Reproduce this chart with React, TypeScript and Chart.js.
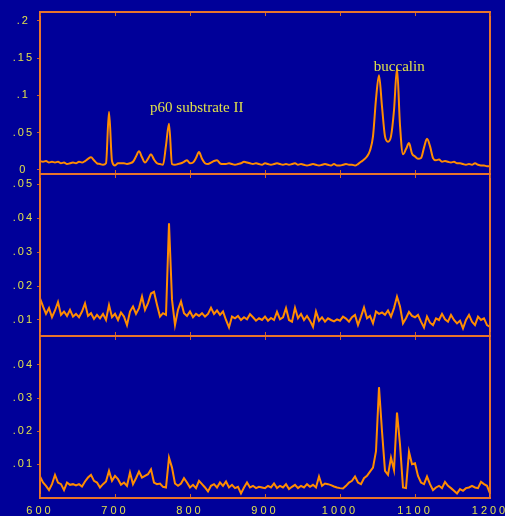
import React, { useEffect, useRef } from 'react';
import { Chart, registerables } from 'chart.js';

Chart.register(...registerables);

// Spectra are sampled every 4 cm-1 from 600 to 1200.
const WAVENUMBER_START = 600;
const WAVENUMBER_STEP = 4;

const TOP_TRACE = [
  0.012, 0.011, 0.012, 0.010, 0.011, 0.010, 0.011, 0.009, 0.010, 0.008,
  0.009, 0.010, 0.009, 0.011, 0.010, 0.012, 0.015, 0.017, 0.013, 0.009,
  0.008, 0.007, 0.009, 0.078, 0.012, 0.006, 0.009, 0.009, 0.009, 0.008,
  0.009, 0.011, 0.018, 0.025, 0.017, 0.010, 0.015, 0.021, 0.014, 0.009,
  0.008, 0.007, 0.033, 0.062, 0.008, 0.007, 0.008, 0.009, 0.011, 0.013,
  0.009, 0.010, 0.016, 0.024, 0.015, 0.009, 0.008, 0.010, 0.012, 0.013,
  0.009, 0.008, 0.008, 0.009, 0.008, 0.007, 0.008, 0.009, 0.011, 0.010,
  0.009, 0.008, 0.009, 0.008, 0.007, 0.009, 0.008, 0.007, 0.008, 0.009,
  0.008, 0.007, 0.008, 0.007, 0.008, 0.009, 0.007, 0.008, 0.007, 0.006,
  0.007, 0.008, 0.007, 0.006, 0.007, 0.008, 0.007, 0.006, 0.008, 0.006,
  0.006, 0.007, 0.008, 0.007, 0.007, 0.006, 0.008, 0.011, 0.014, 0.018,
  0.026, 0.045, 0.095, 0.127, 0.085, 0.045, 0.038, 0.045, 0.080, 0.136,
  0.060, 0.021, 0.028, 0.036, 0.022, 0.018, 0.015, 0.016, 0.030, 0.042,
  0.032, 0.016, 0.013, 0.014, 0.011, 0.012, 0.011, 0.010, 0.011, 0.009,
  0.009, 0.008, 0.007, 0.008, 0.007, 0.009, 0.007, 0.006, 0.006, 0.005,
  0.005,
];

const MIDDLE_TRACE = [
  0.0164, 0.0140, 0.0118, 0.0135, 0.0108, 0.0128, 0.0153, 0.0115, 0.0125, 0.0112,
  0.0130, 0.0110, 0.0118, 0.0108, 0.0125, 0.0149, 0.0112, 0.0120, 0.0103, 0.0115,
  0.0105, 0.0118, 0.0100, 0.0144, 0.0108, 0.0118, 0.0100, 0.0122, 0.0110, 0.0085,
  0.0125, 0.0140, 0.0118, 0.0135, 0.0169, 0.0130, 0.0150, 0.0178, 0.0183, 0.0145,
  0.0110, 0.0120, 0.0115, 0.0385, 0.0160, 0.0085, 0.0130, 0.0155, 0.0120, 0.0112,
  0.0125, 0.0108, 0.0118, 0.0112, 0.0120, 0.0110, 0.0118, 0.0136, 0.0118, 0.0128,
  0.0115, 0.0125, 0.0100, 0.0078, 0.0110, 0.0105, 0.0112, 0.0100, 0.0108, 0.0102,
  0.0117, 0.0108, 0.0098, 0.0105, 0.0100, 0.0110, 0.0098, 0.0106, 0.0100, 0.0124,
  0.0102, 0.0108, 0.0135, 0.0100, 0.0095, 0.0136, 0.0105, 0.0118, 0.0100, 0.0112,
  0.0098, 0.0080, 0.0125, 0.0098, 0.0108, 0.0095, 0.0105, 0.0100, 0.0096, 0.0102,
  0.0098, 0.0110, 0.0104, 0.0095, 0.0108, 0.0115, 0.0085, 0.0110, 0.0137, 0.0105,
  0.0112, 0.0090, 0.0125, 0.0118, 0.0122, 0.0115, 0.0128, 0.0110, 0.0135, 0.0169,
  0.0140, 0.0090, 0.0105, 0.0124, 0.0112, 0.0108, 0.0115, 0.0095, 0.0078, 0.0110,
  0.0092, 0.0085, 0.0105, 0.0100, 0.0118, 0.0102, 0.0095, 0.0115, 0.0100, 0.0090,
  0.0098, 0.0075, 0.0100, 0.0115, 0.0095, 0.0085, 0.0110, 0.0100, 0.0105, 0.0085,
  0.0080,
];

const BOTTOM_TRACE = [
  0.0063, 0.0045, 0.0035, 0.0022, 0.0040, 0.0068, 0.0045, 0.0040, 0.0022, 0.0045,
  0.0038, 0.0040, 0.0036, 0.0040, 0.0033, 0.0048, 0.0060, 0.0068, 0.0050, 0.0045,
  0.0030, 0.0040, 0.0048, 0.0080, 0.0050, 0.0065, 0.0055, 0.0038, 0.0045, 0.0035,
  0.0075, 0.0040, 0.0058, 0.0078, 0.0060, 0.0065, 0.0070, 0.0085, 0.0045, 0.0040,
  0.0042, 0.0032, 0.0030, 0.0120, 0.0090, 0.0042, 0.0035, 0.0042, 0.0058, 0.0045,
  0.0030, 0.0038, 0.0028, 0.0050, 0.0040, 0.0030, 0.0018, 0.0035, 0.0040, 0.0030,
  0.0045, 0.0035, 0.0048, 0.0030, 0.0038, 0.0028, 0.0032, 0.0012, 0.0030, 0.0045,
  0.0030, 0.0035, 0.0028, 0.0032, 0.0030, 0.0028, 0.0035, 0.0030, 0.0042, 0.0028,
  0.0035, 0.0030, 0.0040, 0.0025, 0.0032, 0.0038, 0.0028, 0.0035, 0.0030, 0.0040,
  0.0032, 0.0038, 0.0030, 0.0063, 0.0035, 0.0042, 0.0040, 0.0037, 0.0033, 0.0030,
  0.0028, 0.0027, 0.0035, 0.0045, 0.0050, 0.0063, 0.0045, 0.0040, 0.0058, 0.0065,
  0.0078, 0.0090, 0.0140, 0.0333, 0.0200, 0.0080, 0.0068, 0.0120, 0.0083, 0.0256,
  0.0160, 0.0030, 0.0028, 0.0138, 0.0100, 0.0103, 0.0065, 0.0045, 0.0040, 0.0063,
  0.0040, 0.0022, 0.0030, 0.0035, 0.0028, 0.0047, 0.0035, 0.0028, 0.0020, 0.0012,
  0.0025, 0.0020, 0.0028, 0.0030, 0.0035, 0.0030, 0.0028, 0.0047, 0.0040, 0.0035,
  0.0012,
];

const X_TICKS = [600, 700, 800, 900, 1000, 1100, 1200];
const TOP_TICKS = [0, 0.05, 0.1, 0.15, 0.2];
const MIDDLE_TICKS = [0.01, 0.02, 0.03, 0.04, 0.05];
const BOTTOM_TICKS = [0.01, 0.02, 0.03, 0.04];

const PEAK_NAMES = ['p60 substrate II', 'buccalin'];
const PEAK_NAME_X = [809, 1079];
const PEAK_NAME_Y = [0.078, 0.132];

const BG = '#000099';
const LINE = '#ff8c00';
const FRAME = '#e8742c';
const TICK = '#c8622a';
const TEXT = '#e0e04a';
const SANS = '"Liberation Sans", Arial, sans-serif';
const SERIF = '"Liberation Serif", "Times New Roman", serif';

const PANEL_IDS = ['yTop', 'yMid', 'yBot'];

function formatDecimal(v: number): string {
  if (v === 0) return '0';
  return String(+v.toFixed(4)).replace(/^0\./, '.');
}

function toPoints(vals: number[]) {
  return vals.map((y, i) => ({ x: WAVENUMBER_START + i * WAVENUMBER_STEP, y }));
}

function panelScale(min: number, max: number, ticks: number[], weight: number) {
  return {
    type: 'linear',
    position: 'left',
    stack: 'panels',
    stackWeight: 1,
    weight,
    min,
    max,
    afterBuildTicks: (s: any) => {
      s.ticks = ticks.map((value) => ({ value }));
    },
    afterFit: (s: any) => {
      s.width = 40;
      s.paddingTop = 0;
      s.paddingBottom = 0;
    },
    grid: {
      display: true,
      drawOnChartArea: false,
      drawTicks: true,
      tickLength: 3,
      color: TICK,
      lineWidth: 1,
    },
    border: { display: false },
    ticks: {
      color: TEXT,
      font: { family: SANS, size: 11 },
      padding: 6,
      crossAlign: 'center',
      autoSkip: false,
      callback: (v: number) => formatDecimal(v),
    },
  };
}

const panelFrame = {
  id: 'panelFrame',
  beforeDraw(chart: any) {
    const { ctx, width, height } = chart;
    ctx.save();
    ctx.fillStyle = BG;
    ctx.fillRect(0, 0, width, height);
    ctx.restore();
    ctx.letterSpacing = '2px';
  },
  afterDatasetsDraw(chart: any) {
    const { ctx, chartArea, scales } = chart;
    const xs = scales.x;
    ctx.save();
    ctx.letterSpacing = '0px';
    ctx.strokeStyle = FRAME;
    ctx.lineWidth = 2;
    for (const id of PANEL_IDS) {
      const s = scales[id];
      ctx.strokeRect(chartArea.left, s.top, chartArea.right - chartArea.left, s.bottom - s.top);
    }
    ctx.strokeStyle = TICK;
    ctx.lineWidth = 1;
    ctx.beginPath();
    for (const id of PANEL_IDS) {
      const s = scales[id];
      for (const v of X_TICKS) {
        const px = Math.round(xs.getPixelForValue(v)) + 0.5;
        ctx.moveTo(px, s.top + 1);
        ctx.lineTo(px, s.top + 4);
        ctx.moveTo(px, s.bottom - 1);
        ctx.lineTo(px, s.bottom - 4);
      }
    }
    ctx.stroke();
    ctx.restore();
    ctx.letterSpacing = '3px';
  },
  afterDraw(chart: any) {
    const { ctx, scales } = chart;
    ctx.letterSpacing = '0px';
    ctx.save();
    ctx.fillStyle = TEXT;
    ctx.font = `15px ${SERIF}`;
    ctx.textAlign = 'center';
    ctx.textBaseline = 'alphabetic';
    PEAK_NAMES.forEach((name, i) => {
      ctx.fillText(
        name,
        scales.x.getPixelForValue(PEAK_NAME_X[i]),
        scales.yTop.getPixelForValue(PEAK_NAME_Y[i])
      );
    });
    ctx.restore();
  },
};

export default function App() {
  const canvasRef = useRef<HTMLCanvasElement>(null);

  useEffect(() => {
    const canvas = canvasRef.current;
    if (!canvas) return;
    const lineStyle = {
      borderColor: LINE,
      borderWidth: 2,
      pointRadius: 0,
      tension: 0,
      fill: false,
    };
    const chart = new Chart(canvas, {
      type: 'line',
      data: {
        datasets: [
          {
            ...lineStyle,
            label: 'top',
            data: toPoints(TOP_TRACE),
            yAxisID: 'yTop',
            cubicInterpolationMode: 'monotone',
          },
          { ...lineStyle, label: 'middle', data: toPoints(MIDDLE_TRACE), yAxisID: 'yMid' },
          { ...lineStyle, label: 'bottom', data: toPoints(BOTTOM_TRACE), yAxisID: 'yBot' },
        ],
      },
      options: {
        animation: false,
        responsive: false,
        maintainAspectRatio: false,
        devicePixelRatio: 1,
        layout: { padding: { top: 12, right: 15, left: 0, bottom: 0 } },
        plugins: { legend: { display: false }, tooltip: { enabled: false } },
        scales: {
          x: {
            type: 'linear',
            position: 'bottom',
            min: 600,
            max: 1200,
            afterBuildTicks: (s: any) => {
              s.ticks = X_TICKS.map((value) => ({ value }));
            },
            afterFit: (s: any) => {
              s.height = 18;
              s.paddingLeft = 0;
              s.paddingRight = 0;
            },
            grid: { display: false, drawTicks: false },
            border: { display: false },
            ticks: {
              color: TEXT,
              font: { family: SANS, size: 11 },
              padding: 6,
              maxRotation: 0,
              autoSkip: false,
              z: 1,
              callback: (v: number) => String(v),
            },
          },
          yTop: panelScale(-0.00536, 0.21165, TOP_TICKS, 3),
          yMid: panelScale(0.00528, 0.05304, MIDDLE_TICKS, 2),
          yBot: panelScale(-0.00018, 0.04876, BOTTOM_TICKS, 1),
        } as any,
      },
      plugins: [panelFrame],
    } as any);
    return () => chart.destroy();
  }, []);

  return (
    <div
      style={{
        position: 'fixed',
        left: 0,
        top: 0,
        width: 505,
        height: 516,
        background: BG,
      }}
    >
      <canvas ref={canvasRef} width={505} height={516} style={{ display: 'block' }} />
    </div>
  );
}
